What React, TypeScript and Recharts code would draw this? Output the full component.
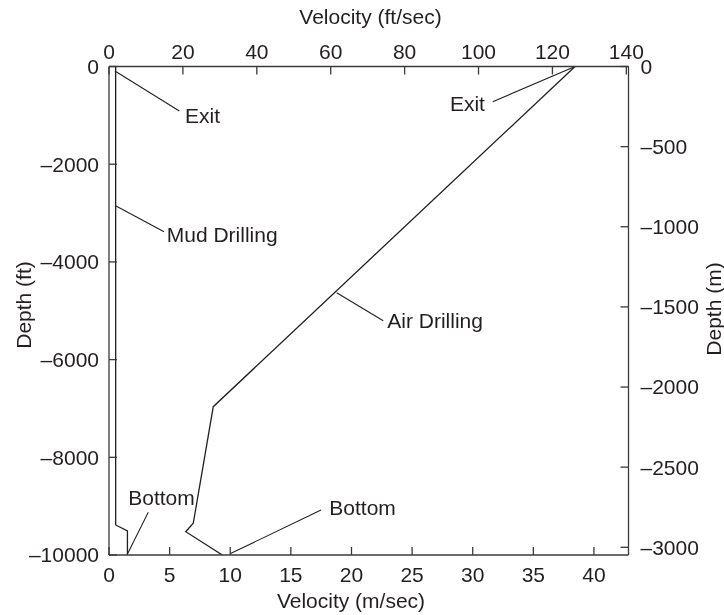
import React from 'react';
import { LineChart, Line, XAxis, YAxis, ReferenceDot, Label } from 'recharts';

// Velocity in m/sec (bottom axis), depth in ft (left axis)
const M_TO_FT = 1 / 0.3048;

const mudDrilling = [
  { x: 0.55, y: 0 },
  { x: 0.55, y: -9385 },
  { x: 1.52, y: -9508 },
  { x: 1.52, y: -10000 },
];

const airDrilling = [
  { x: 38.44, y: 0 },
  { x: 8.6, y: -6964 },
  { x: 6.95, y: -9351 },
  { x: 6.33, y: -9523 },
  { x: 9.35, y: -10000 },
];

// leader lines from curve to annotation text
const leaderExitMud = [{ x: 0.49, y: -92 }, { x: 5.8, y: -911 }];
const leaderExitAir = [{ x: 38.44, y: 0 }, { x: 31.65, y: -721 }];
const leaderMud = [{ x: 0.58, y: -2856 }, { x: 4.54, y: -3382 }];
const leaderAir = [{ x: 18.78, y: -4630 }, { x: 22.62, y: -5203 }];
const leaderBottomMud = [{ x: 3.24, y: -9125 }, { x: 1.54, y: -9970 }];
const leaderBottomAir = [{ x: 9.98, y: -9975 }, { x: 17.49, y: -9079 }];
const leaders = [leaderExitMud, leaderExitAir, leaderMud, leaderAir, leaderBottomMud, leaderBottomAir];

const annotations = [
  { text: 'Exit', x: 6.27, y: -1150, anchor: 'start' },
  { text: 'Exit', x: 31.01, y: -911, anchor: 'end' },
  { text: 'Mud Drilling', x: 4.76, y: -3586, anchor: 'start' },
  { text: 'Air Drilling', x: 22.95, y: -5343, anchor: 'start' },
  { text: 'Bottom', x: 1.59, y: -8976, anchor: 'start' },
  { text: 'Bottom', x: 18.17, y: -9191, anchor: 'start' },
];

const bottomTicks = [0, 5, 10, 15, 20, 25, 30, 35, 40];
const topTicks = [0, 20, 40, 60, 80, 100, 120, 140];
const leftTicks = [0, -2000, -4000, -6000, -8000, -10000];
const rightTicks = [0, -500, -1000, -1500, -2000, -2500, -3000];

const X_MAX = 42.85;
const Y_MIN = -10000;

const FONT = '"Liberation Sans", Arial, Helvetica, sans-serif';
const INK = '#231f20';
const AXIS = '#3a3a3a';
const FS = 21;

const fmt = (v: number) => String(v).replace('-', '\u2013');
const tickStyle = { fill: INK, fontSize: FS, fontFamily: FONT };
const axisLineStyle = { stroke: AXIS, strokeWidth: 1.3 };

const TopTitle = (props: any) => {
  const vb = props.viewBox;
  return (
    <text x={vb.x + vb.width / 2 + 1.75} y={vb.y + 16} textAnchor="middle" fill={INK} fontSize={FS} fontFamily={FONT}>
      Velocity (ft/sec)
    </text>
  );
};
const BottomTitle = (props: any) => {
  const vb = props.viewBox;
  return (
    <text x={vb.x + 242} y={vb.y + 53} textAnchor="middle" fill={INK} fontSize={FS} fontFamily={FONT}>
      Velocity (m/sec)
    </text>
  );
};
const LeftTitle = (props: any) => {
  const vb = props.viewBox;
  const cx = vb.x + 15;
  const cy = 305;
  return (
    <text x={cx} y={cy} textAnchor="middle" dominantBaseline="central" transform={`rotate(-90, ${cx}, ${cy})`} fill={INK} fontSize={FS} fontFamily={FONT}>
      Depth (ft)
    </text>
  );
};
const RightTitle = (props: any) => {
  const vb = props.viewBox;
  const cx = vb.x + vb.width - 11;
  const cy = 309;
  return (
    <text x={cx} y={cy} textAnchor="middle" dominantBaseline="central" transform={`rotate(-90, ${cx}, ${cy})`} fill={INK} fontSize={FS} fontFamily={FONT}>
      Depth (m)
    </text>
  );
};

export default function App() {
  return (
    <div style={{ position: 'fixed', left: 0, top: 0, width: 724, height: 615 }}>
      <LineChart width={724} height={615} margin={{ top: 8, right: 0, bottom: 0, left: 8 }}>
        <XAxis
          xAxisId="bottom"
          orientation="bottom"
          type="number"
          dataKey="x"
          domain={[0, X_MAX]}
          ticks={bottomTicks}
          interval={0}
          height={60}
          tickSize={-8}
          tickMargin={20}
          axisLine={axisLineStyle}
          tickLine={axisLineStyle}
          tick={tickStyle}
          tickFormatter={fmt}
          allowDataOverflow
        >
          <Label content={BottomTitle} />
        </XAxis>
        <XAxis
          xAxisId="top"
          orientation="top"
          type="number"
          dataKey="x"
          domain={[0, X_MAX * M_TO_FT]}
          ticks={topTicks}
          interval={0}
          height={58.5}
          tickSize={-8}
          tickMargin={16}
          axisLine={axisLineStyle}
          tickLine={axisLineStyle}
          tick={tickStyle}
          tickFormatter={fmt}
          allowDataOverflow
        >
          <Label content={TopTitle} />
        </XAxis>
        <YAxis
          yAxisId="left"
          orientation="left"
          type="number"
          domain={[Y_MIN, 0]}
          ticks={leftTicks}
          interval={0}
          width={101}
          tickSize={-8}
          tickMargin={18}
          axisLine={axisLineStyle}
          tickLine={axisLineStyle}
          tick={tickStyle}
          tickFormatter={fmt}
          allowDataOverflow
        >
          <Label content={LeftTitle} />
        </YAxis>
        <YAxis
          yAxisId="right"
          orientation="right"
          type="number"
          domain={[Y_MIN * 0.3048, 0]}
          ticks={rightTicks}
          interval={0}
          width={95.5}
          tickSize={-8}
          tickMargin={20}
          axisLine={axisLineStyle}
          tickLine={axisLineStyle}
          tick={tickStyle}
          tickFormatter={fmt}
          allowDataOverflow
        >
          <Label content={RightTitle} />
        </YAxis>
        <Line
          xAxisId="bottom"
          yAxisId="left"
          data={mudDrilling}
          dataKey="y"
          type="linear"
          stroke={INK}
          strokeWidth={1.3}
          dot={false}
          activeDot={false}
          isAnimationActive={false}
        />
        <Line
          xAxisId="bottom"
          yAxisId="left"
          data={airDrilling}
          dataKey="y"
          type="linear"
          stroke={INK}
          strokeWidth={1.3}
          dot={false}
          activeDot={false}
          isAnimationActive={false}
        />
        {leaders.map((d, i) => (
          <Line
            key={'ld' + i}
            xAxisId="bottom"
            yAxisId="left"
            data={d}
            dataKey="y"
            type="linear"
            stroke={INK}
            strokeWidth={1.1}
            dot={false}
            activeDot={false}
            isAnimationActive={false}
          />
        ))}
        {annotations.map((a, i) => (
          <ReferenceDot
            key={'an' + i}
            xAxisId="bottom"
            yAxisId="left"
            x={a.x}
            y={a.y}
            r={0}
            ifOverflow="visible"
            shape={(p: any) => (
              <text x={p.cx} y={p.cy} textAnchor={a.anchor as any} fill={INK} fontSize={FS} fontFamily={FONT}>
                {a.text}
              </text>
            )}
          />
        ))}
      </LineChart>
    </div>
  );
}
